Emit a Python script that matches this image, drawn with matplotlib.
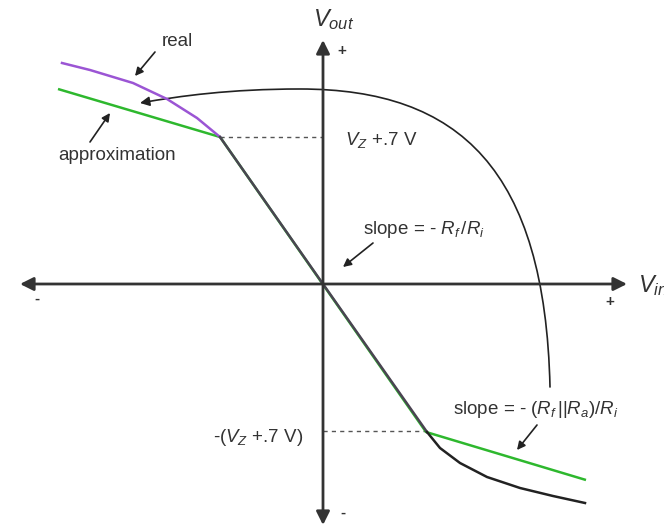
import matplotlib.pyplot as plt
import numpy as np
from matplotlib.patches import FancyArrowPatch
from matplotlib.path import Path

plt.rcParams["font.family"] = ["Liberation Sans", "DejaVu Sans"]
plt.rcParams["mathtext.fontset"] = "custom"
plt.rcParams["mathtext.rm"] = "Liberation Sans"
plt.rcParams["mathtext.it"] = "Liberation Sans:italic"

# coordinates (units ~ pixels, origin at axis cross)
approx_x = [-265, -103, 103, 263]
approx_y = [195, 147, -148, -196]

real_upper_x = [-261, -233, -190, -156, -126, -103]
real_upper_y = [221, 214, 201, 185, 166, 147]
real_mid_x = [-103, 0, 104]
real_mid_y = [147, 0, -148]
real_lower_x = [104, 117, 137, 164, 197, 230, 262]
real_lower_y = [-148, -164, -179, -193, -204, -212, -219]

knee_x = 103
knee_y = 147

TXT = "#333333"
PURPLE = "#9b55d4"
GREEN = "#2eb82e"

fig = plt.figure(figsize=(6.64, 5.27), dpi=100)
ax = fig.add_axes([0, 0, 1, 1])
ax.set_xlim(-323, 341)
ax.set_ylim(-243, 284)
ax.axis("off")

# axes with arrows
ax.annotate("", xy=(304, 0), xytext=(-303, 0),
            arrowprops=dict(arrowstyle="<|-|>", color="#333333", lw=2,
                            mutation_scale=20, shrinkA=0, shrinkB=0))
ax.annotate("", xy=(0, 244), xytext=(0, -241),
            arrowprops=dict(arrowstyle="<|-|>", color="#333333", lw=2,
                            mutation_scale=20, shrinkA=0, shrinkB=0))

# dashed level lines
ax.plot([-knee_x, 0], [knee_y, knee_y], ls=(0, (3, 3)), color="#555555", lw=1)
ax.plot([0, knee_x], [-knee_y, -knee_y], ls=(0, (3, 3)), color="#555555", lw=1)

# curves
ax.plot(approx_x, approx_y, color=GREEN, lw=1.8, solid_capstyle="butt")
ax.plot(real_upper_x, real_upper_y, color=PURPLE, lw=1.8, solid_joinstyle="round")
ax.plot(real_mid_x, real_mid_y, color="#4a4452", lw=1.8)
ax.plot(real_lower_x, real_lower_y, color="#222222", lw=1.8, solid_joinstyle="round")

# big curved arrow
verts = [(227, -103), (222, 114), (137, 195), (-23, 195),
         (-93, 195), (-143, 188), (-183, 181)]
codes = [Path.MOVETO, Path.CURVE4, Path.CURVE4, Path.CURVE4,
         Path.CURVE4, Path.CURVE4, Path.CURVE4]
big = FancyArrowPatch(path=Path(verts, codes), arrowstyle="-|>",
                      mutation_scale=14, color="#222222", lw=1.2)
ax.add_patch(big)

# small pointer arrows
pointers = [((-168, 232), (-188, 208)),
            ((-233, 142), (-213, 171)),
            ((50, 41), (20, 17)),
            ((214, -141), (194, -166))]
for (x0, y0), (x1, y1) in pointers:
    ax.annotate("", xy=(x1, y1), xytext=(x0, y0),
                arrowprops=dict(arrowstyle="-|>", color="#222222", lw=1.2,
                                mutation_scale=12, shrinkA=0, shrinkB=0))

fs = 13.5
ax.text(11, 264, "$V_{out}$", fontsize=17, color=TXT, ha="center", va="center")
ax.text(19, 233, "+", fontsize=11, color=TXT, ha="center", va="center", fontweight="bold")
ax.text(315, -2, "$V_{in}$", fontsize=17, color=TXT, ha="left", va="center")
ax.text(287, -18, "+", fontsize=11, color=TXT, ha="center", va="center", fontweight="bold")
ax.text(-286, -15, "-", fontsize=11, color=TXT, ha="center", va="center", fontweight="bold")
ax.text(20, -229, "-", fontsize=11, color=TXT, ha="center", va="center", fontweight="bold")

ax.text(-146, 242, "real", fontsize=fs, color=TXT, ha="center", va="center")
ax.text(-265, 129, "approximation", fontsize=fs, color=TXT, ha="left", va="center")
ax.text(22, 144, "$V_Z$ +.7 V", fontsize=fs, color=TXT, ha="left", va="center")
ax.text(40, 54, "slope = - $R_f\\,/R_i$", fontsize=fs, color=TXT, ha="left", va="center")
ax.text(130, -126, "slope = - ($R_f\\,$||$R_a$)/$R_i$", fontsize=fs, color=TXT,
        ha="left", va="center")
ax.text(-20, -153, "-($V_Z$ +.7 V)", fontsize=fs, color=TXT, ha="right", va="center")

fig.savefig("out.png", dpi=100, facecolor="white")
